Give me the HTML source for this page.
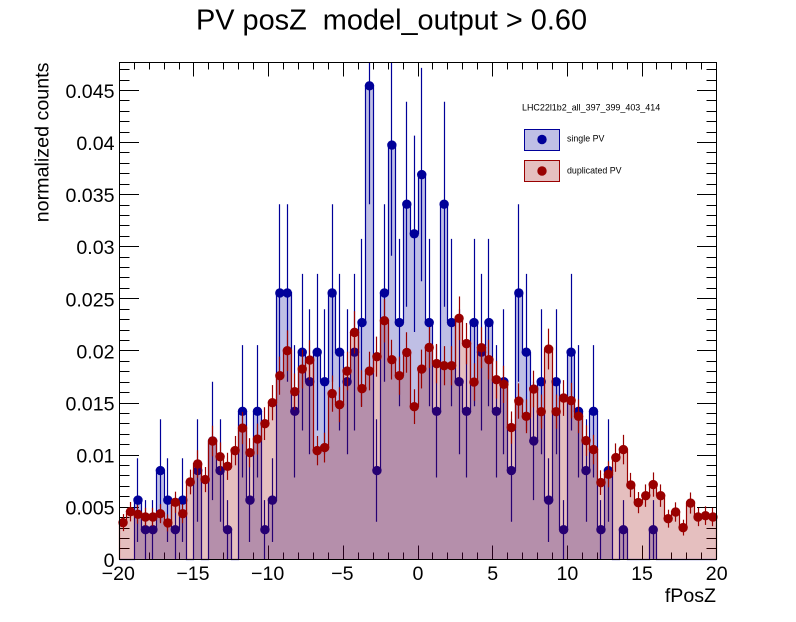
<!DOCTYPE html>
<html lang="en">
<head>
<meta charset="utf-8">
<title>PV posZ model_output > 0.60</title>
<style>
html,body{margin:0;padding:0;background:#fff;}
svg{display:block;}
text{font-family:"Liberation Sans",sans-serif;fill:#000;white-space:pre;}
</style>
</head>
<body>
<svg id="chart" xmlns="http://www.w3.org/2000/svg" width="796" height="622" viewBox="0 0 796 622">
  <rect x="0" y="0" width="796" height="622" fill="#ffffff"/>
  <text x="391.5" y="29.5" font-size="28.9" text-anchor="middle" xml:space="preserve">PV posZ  model_output &gt; 0.60</text>
  <g id="axes-layer"></g>
  <g id="single-layer"></g>
  <g id="dup-layer"></g>
  <g id="frame-layer"></g>
  <text x="716" y="602" font-size="19.6" text-anchor="end">fPosZ</text>
  <text transform="translate(48.3,62.5) rotate(-90)" font-size="19.7" text-anchor="end">normalized counts</text>
  <g>
    <text x="522" y="110.5" font-size="8.95">LHC22l1b2_all_397_399_403_414</text>
    <g>
      <rect x="524.5" y="129.5" width="35" height="21" fill="#000099" fill-opacity="0.25" stroke="#000099" stroke-width="1"/>
      <circle cx="542" cy="139.5" r="4.7" fill="#000099"/>
      <text x="567" y="141.5" font-size="8.85">single PV</text>
    </g>
    <g>
      <rect x="524.5" y="160.5" width="35" height="21" fill="#990000" fill-opacity="0.25" stroke="#990000" stroke-width="1"/>
      <circle cx="542" cy="171" r="4.7" fill="#990000"/>
      <text x="567" y="173.3" font-size="8.85">duplicated PV</text>
    </g>
  </g>
</svg>
<script>
// 80 bins spanning fPosZ from -20 to 20
const singlePV = [
  0, 0, 0.00568, 0.00284, 0.00284, 0.00852, 0.00568, 0.00284, 0.00568, 0,
  0.00852, 0, 0.01136, 0.00852, 0.00284, 0, 0.0142, 0.00568, 0.0142, 0.00284,
  0.00568, 0.02556, 0.02556, 0.0142, 0.01988, 0.01704, 0.01988, 0.01704, 0.02556, 0.01988,
  0.01704, 0.01988, 0.02272, 0.04544, 0.00852, 0.02556, 0.03976, 0.02272, 0.03408, 0.03124,
  0.03692, 0.02272, 0.0142, 0.03408, 0.02272, 0.01704, 0.0142, 0.02272, 0.01988, 0.02272,
  0.0142, 0.01704, 0.00852, 0.02556, 0.01988, 0.01136, 0.01704, 0.00568, 0.01704, 0.00284,
  0.01988, 0.0142, 0.00852, 0.0142, 0.00284, 0.00852, 0, 0.00284, 0, 0,
  0, 0.00284, 0, 0, 0, 0, 0, 0, 0, 0
];
const duplicatedPV = [
  0.00352, 0.00457, 0.00432, 0.00406, 0.00406, 0.00438, 0.00349, 0.00547, 0.00438, 0.00742,
  0.00915, 0.00765, 0.01135, 0.00985, 0.00892, 0.01043, 0.0126, 0.01023, 0.01154, 0.01302,
  0.01503, 0.01762, 0.02002, 0.01609, 0.01826, 0.01912, 0.01043, 0.01072, 0.0159, 0.01484,
  0.01807, 0.02178, 0.01638, 0.01807, 0.01945, 0.0229, 0.01916, 0.01762, 0.01985, 0.01465,
  0.01826, 0.02033, 0.01878, 0.01858, 0.01858, 0.02313, 0.0207, 0.01701, 0.02031, 0.01916,
  0.01724, 0.01679, 0.01264, 0.01519, 0.01372, 0.01634, 0.01417, 0.02018, 0.01417, 0.01548,
  0.01523, 0.01372, 0.01139, 0.01053, 0.00736, 0.00816, 0.00976, 0.01053, 0.00713, 0.00544,
  0.00611, 0.00717, 0.00611, 0.0039, 0.00454, 0.00304, 0.0054, 0.00406, 0.00419, 0.00406
];
const xTickValues = [-20, -15, -10, -5, 0, 5, 10, 15, 20];
const xTickLabels = ["\u221220", "\u221215", "\u221210", "\u22125", "0", "5", "10", "15", "20"];
const yTickValues = [0, 0.005, 0.01, 0.015, 0.02, 0.025, 0.03, 0.035, 0.04, 0.045];
const yTickLabels = ["0", "0.005", "0.01", "0.015", "0.02", "0.025", "0.03", "0.035", "0.04", "0.045"];

const NS = "http://www.w3.org/2000/svg";
const plot = { left: 119.3, right: 716.7, top: 62.3, bottom: 559.3 };
const xDomain = [-20, 20];
const yDomainMax = 0.0477;
const binWidth = (xDomain[1] - xDomain[0]) / singlePV.length;
const singleErrUnit = 0.00284;
const dupErrUnit = 0.00019;

function xScale(v) {
  return plot.left + (v - xDomain[0]) * (plot.right - plot.left) / (xDomain[1] - xDomain[0]);
}
function yScale(v) {
  return plot.bottom - v * (plot.bottom - plot.top) / yDomainMax;
}
function snap(p) {
  return Math.floor(p) + 0.5;
}
function mk(tag, parent, attrs) {
  const el = document.createElementNS(NS, tag);
  for (const k in attrs) el.setAttribute(k, attrs[k]);
  parent.appendChild(el);
  return el;
}

const axesLayer = document.getElementById("axes-layer");
const frameLayer = document.getElementById("frame-layer");

// minor and major ticks on all four sides
for (let u = -20; u <= 20; u++) {
  if (u === -20 || u === 20) continue;
  const major = u % 5 === 0;
  const len = major ? 14 : 7;
  const x = snap(xScale(u));
  const tb = mk("line", axesLayer, { x1: x, x2: x, y1: snap(plot.bottom), y2: snap(plot.bottom) - len, stroke: "#000", "stroke-width": 1 });
  
  
  const tt = mk("line", axesLayer, { x1: x, x2: x, y1: snap(plot.top), y2: snap(plot.top) + len, stroke: "#000", "stroke-width": 1 });
  
  
}
for (let m = 1; m <= 47; m++) {
  const major = m % 5 === 0;
  const len = major ? 19.5 : 10;
  const y = snap(yScale(m / 1000));
  const tl = mk("line", axesLayer, { x1: snap(plot.left), x2: snap(plot.left) + len, y1: y, y2: y, stroke: "#000", "stroke-width": 1 });
  
  
  const tr = mk("line", axesLayer, { x1: snap(plot.right), x2: snap(plot.right) - len, y1: y, y2: y, stroke: "#000", "stroke-width": 1 });
  
  
}
xTickValues.forEach(function (v, i) {
  const t = mk("text", axesLayer, { x: xScale(v) - (v < 0 ? 1 : 0), y: 580, "font-size": 19.6, "text-anchor": "middle" });
  t.textContent = xTickLabels[i];
  
  
});
yTickValues.forEach(function (v, i) {
  const t = mk("text", axesLayer, { x: 114.5, y: yScale(v) + 7.5, "font-size": 19.6, "text-anchor": "end" });
  t.textContent = yTickLabels[i];
  
  
});

function histPath(values) {
  let d = "M" + snap(xScale(xDomain[0])) + " " + snap(yScale(0));
  values.forEach(function (v, i) {
    const x0 = snap(xScale(xDomain[0] + i * binWidth));
    const x1 = snap(xScale(xDomain[0] + (i + 1) * binWidth));
    const y = snap(yScale(v));
    d += "L" + x0 + " " + y + "L" + x1 + " " + y;
  });
  d += "L" + snap(xScale(xDomain[1])) + " " + snap(yScale(0));
  return d;
}

function drawSeries(layer, values, errUnit, color, slug) {
  const fillPath = mk("path", layer, { d: histPath(values) + "Z", fill: color, "fill-opacity": 0.25, stroke: "none" });
  
  
  const linePath = mk("path", layer, { d: histPath(values), fill: "none", stroke: color, "stroke-width": 1.2 });
  
  
  values.forEach(function (v, i) {
    if (v <= 0) return;
    const cx = xScale(xDomain[0] + (i + 0.5) * binWidth);
    const err = Math.sqrt(v * errUnit);
    const yHi = Math.max(yScale(v + err), plot.top);
    const yLo = Math.min(yScale(v - err), plot.bottom);
    const bar = mk("line", layer, { x1: snap(cx), x2: snap(cx), y1: yHi, y2: yLo, stroke: color, "stroke-width": 1.2 });
    
    
    const pt = mk("circle", layer, { cx: cx, cy: yScale(v), r: 4.7, fill: color });
    
    
  });
}

drawSeries(document.getElementById("single-layer"), singlePV, singleErrUnit, "#000099", "single-pv");
drawSeries(document.getElementById("dup-layer"), duplicatedPV, dupErrUnit, "#990000", "duplicated-pv");

const frame = mk("rect", frameLayer, {
  x: snap(plot.left), y: snap(plot.top),
  width: snap(plot.right) - snap(plot.left), height: snap(plot.bottom) - snap(plot.top),
  fill: "none", stroke: "#000", "stroke-width": 1
});


</script>
</body>
</html>
